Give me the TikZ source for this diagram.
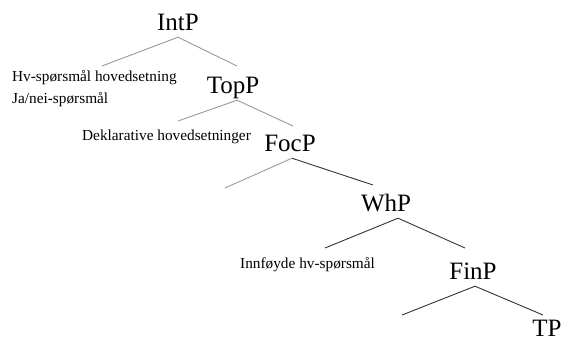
\documentclass[tikz,border=0pt]{standalone}
\usepackage{fontspec}
\setmainfont{Liberation Serif}
\begin{document}
\begin{tikzpicture}[x=1pt,y=-1pt,
    cat/.style={font=\fontsize{25}{25}\selectfont,anchor=base,inner xsep=0pt,inner ysep=7pt,text depth=0pt},
    note/.style={font=\fontsize{15.3}{22}\selectfont,anchor=west,inner sep=0pt,align=left},
    light/.style={black!40,line width=0.9pt},
    dark/.style={black!80,line width=0.9pt}]
  \useasboundingbox (0,0) rectangle (561,340);
  % category labels
  \node[cat] (IntP) at (178,30) {IntP};
  \node[cat] (TopP) at (233,93) {TopP};
  \node[cat] (FocP) at (290,151) {FocP};
  \node[cat] (WhP) at (386,211) {WhP};
  \node[cat] (FinP) at (473,279) {FinP};
  \node[cat] (TP) at (547,336) {TP};
  % clause types
  \node[note] (hv) at (12,89) {Hv-spørsmål hovedsetning\\Ja/nei-spørsmål};
  \node[note] (dekl) at (82,137) {Deklarative hovedsetninger};
  \node[note] (innf) at (240,265) {Innføyde hv-spørsmål};
  % branch ends
  \coordinate (IntP-l) at (102,66);
  \coordinate (IntP-r) at (237,66);
  \coordinate (TopP-l) at (178,121);
  \coordinate (TopP-r) at (293,126);
  \coordinate (FocP-l) at (225,188);
  \coordinate (FocP-r) at (373,185);
  \coordinate (WhP-l) at (325,248);
  \coordinate (WhP-r) at (465,248);
  \coordinate (FinP-l) at (402,315);
  \coordinate (FinP-r) at (543,315);
  % branches
  \draw[light] (IntP-l) -- (IntP.south) -- (IntP-r);
  \draw[light] (TopP-l) -- ([xshift=4pt]TopP.south) -- (TopP-r);
  \draw[light] (FocP-l) -- ([xshift=2pt]FocP.south);
  \draw[dark] ([xshift=2pt]FocP.south) -- (FocP-r);
  \draw[dark] (WhP-l) -- ([xshift=12pt]WhP.south) -- (WhP-r);
  \draw[dark] (FinP-l) -- ([xshift=2pt]FinP.south) -- (FinP-r);
\end{tikzpicture}
\end{document}
